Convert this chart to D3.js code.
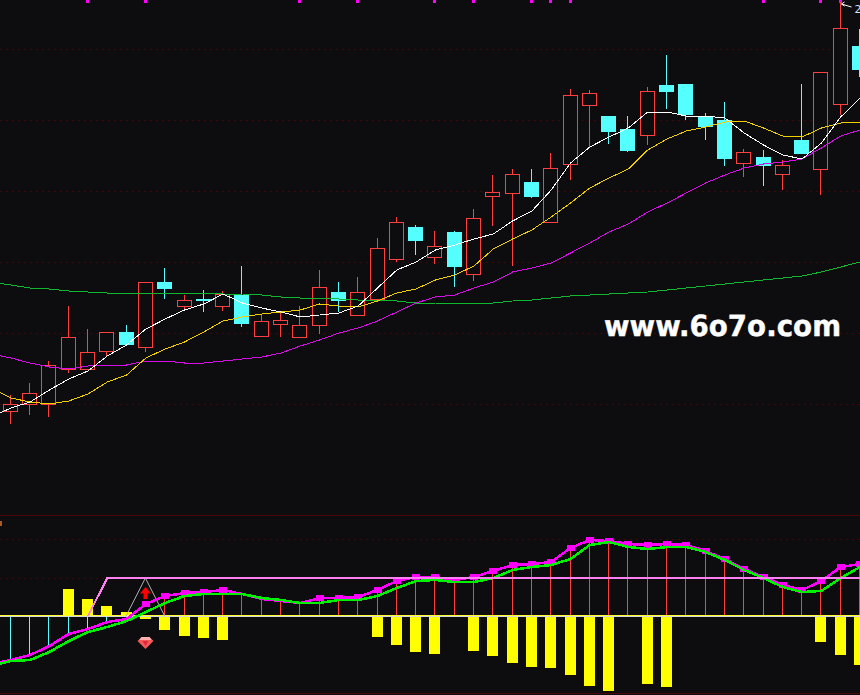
<!DOCTYPE html>
<html>
<head>
<meta charset="utf-8">
<script src="https://d3js.org/d3.v7.min.js"></script>
<style>
html,body{margin:0;padding:0;background:#0d0d10;overflow:hidden}
svg{display:block}
</style>
</head>
<body>
<script>
// Candles, one entry per session
const open  = [8.9,9.6,9.6,13.1,13.1,14.9,16.8,15.3,21.8,19.4,20.1,19.4,20.5,16.4,17.6,16.3,17.5,20.8,18.5,20.1,24.1,27.3,24.3,26.8,22.6,30.4,30.7,31.8,27.8,33.6,39.5,38.4,37.1,36.5,41.5,41.6,38.4,38.0,33.7,34.3,32.6,36.0,33.1,39.6,45.4];
const close = [9.6,10.7,13.5,16.3,14.8,16.8,15.5,21.8,21.1,20.0,19.9,20.6,17.6,17.9,18.0,17.5,21.3,19.9,20.8,25.2,27.8,25.9,25.4,23.3,28.2,30.8,32.6,30.3,33.2,40.5,40.7,36.8,34.9,40.9,40.8,38.5,37.3,34.1,34.8,33.4,33.5,34.6,42.8,47.2,43.0];
const high  = [10.5,11.7,13.9,19.4,17.1,16.8,17.5,21.8,23.2,20.5,21.0,20.9,23.4,18.5,18.7,19.4,23.0,21.8,22.3,26.2,28.3,27.5,26.9,26.9,29.1,32.5,33.1,33.1,34.7,41.1,41.0,38.4,38.4,41.3,44.5,41.6,38.7,39.8,35.1,35.0,34.0,41.6,42.8,49.8,47.1];
const low   = [7.6,8.5,8.3,12.7,13.1,14.3,15.5,14.8,20.1,18.9,18.8,18.9,17.3,16.3,16.3,16.3,16.6,18.8,18.5,20.0,23.8,24.5,23.6,21.3,21.9,27.4,23.4,30.2,27.8,32.0,35.3,35.6,34.8,35.5,39.1,38.0,36.0,33.4,32.3,31.4,31.0,34.6,30.5,38.5,42.3];

// Moving averages; the first value sits one session left of the first candle
const ma5  = [8.3,9.2,9.8,11.0,12.1,12.9,14.4,15.5,17.1,18.1,19.0,19.6,20.6,19.7,19.2,18.8,18.3,18.5,18.7,19.4,21.2,23.0,23.8,25.0,25.5,26.1,26.6,27.9,28.9,31.0,33.7,35.3,36.3,37.2,38.8,38.8,38.4,38.4,38.2,36.7,35.5,34.5,34.1,35.7,38.3,40.2];
const ma10 = [11.2,10.2,9.8,9.6,9.9,10.6,11.8,12.5,14.2,15.1,15.8,16.8,17.9,18.3,18.6,18.8,19.0,19.6,19.4,19.3,19.9,20.7,21.1,22.0,22.5,23.4,25.1,26.1,27.0,28.3,29.7,31.2,32.2,33.1,35.0,36.1,36.9,37.3,37.8,37.9,37.2,36.4,36.3,37.2,37.7,37.8];
const ma20 = [14.6,14.2,13.7,13.3,13.1,13.4,13.5,13.5,13.9,13.9,13.7,13.7,13.9,14.1,14.3,14.7,15.4,16.0,16.7,17.2,17.9,18.8,19.7,20.3,20.5,21.2,21.8,22.8,23.2,23.7,24.7,25.7,26.8,27.6,28.8,29.7,30.7,31.7,32.5,33.2,33.6,33.8,34.1,35.2,36.4,37.0];
const ma60 = [21.8,21.5,21.2,21.1,20.9,20.8,20.7,20.7,20.7,20.7,20.7,20.7,20.6,20.6,20.5,20.3,20.2,20.2,20.1,20.0,20.0,19.9,19.7,19.7,19.6,19.7,19.7,19.9,20.0,20.2,20.4,20.5,20.6,20.7,20.8,21.0,21.2,21.4,21.6,21.8,22.0,22.2,22.4,22.8,23.3,23.8];

const priceGrid = [45.1,38.0,30.9,23.8,16.7,9.6];
const topMarkers = [4,7,15,18,22,24,27,28,29,39,42,43];

// Lower panel; the first value of dif and dea sits one session left of the first candle
const dif = [-.48,-.44,-.39,-.30,-.18,-.13,-.06,-.03,.12,.20,.23,.24,.26,.22,.17,.15,.13,.18,.18,.19,.26,.35,.39,.39,.36,.39,.45,.51,.52,.54,.68,.76,.75,.72,.71,.72,.71,.65,.57,.47,.39,.31,.26,.35,.49,.52];
const dea = [-.50,-.45,-.44,-.36,-.25,-.16,-.11,-.05,.04,.13,.20,.22,.22,.22,.18,.16,.13,.13,.16,.16,.20,.28,.35,.36,.34,.34,.38,.46,.49,.51,.57,.71,.74,.69,.67,.69,.69,.64,.56,.46,.38,.29,.24,.25,.38,.49];
const yellowBars = [null,null,null,.27,.17,.10,.04,-.03,-.14,-.20,-.22,-.24,null,null,null,null,null,null,null,-.21,-.29,-.36,-.38,null,-.35,-.40,-.47,-.51,-.52,-.59,-.70,-.75,null,-.68,-.71,null,null,null,null,null,null,null,-.26,-.39,-.49];
const squares = [null,null,null,null,null,null,null,.12,.20,.23,.24,.26,null,null,null,null,.18,.18,.19,.26,.35,.39,.39,.36,.39,.45,.51,.52,.54,.68,.76,.75,.72,.71,.72,.71,.65,.57,.47,.39,.31,.26,.35,.49,.52];
const stemsBelow = [0,1,2,3,4,5,6];
const stemsAbove = d3.range(8,45);
const stageLevel = .38;
const stageRiseFrom = 4;
const triangleAt = 7;
const macdGrid = [.77,.38];
const panelEdges = [1.01,-.77];
const gemLevel = -.27;
const arrowTipLevel = .29;

const W = 860, H = 695;
const RED = "#ff4040", CYAN = "#55ffff", PINK = "#ff80f0";

const x = d3.scaleLinear().domain([0,44]).range([10.3,859.5]);
const px = i => Math.floor(x(i)) + .5;
const yP = d3.scaleLinear().domain([0,50]).range([500,0]);
const yM = d3.scaleLinear().domain([-.77,1.01]).range([693,515]);

const svg = d3.select("body").append("svg")
  .attr("width",W).attr("height",H)
  .attr("shape-rendering","crispEdges");
svg.append("rect").attr("width",W).attr("height",H).attr("fill","#0d0d10");

// Grid and panel edges
svg.append("g").selectAll("line").data(priceGrid).join("line")
  .attr("x1",0).attr("x2",W)
  .attr("y1",d=>Math.round(yP(d))+.5).attr("y2",d=>Math.round(yP(d))+.5)
  .attr("stroke","#3e0808").attr("stroke-dasharray","2 4");
svg.append("g").selectAll("line").data(macdGrid).join("line")
  .attr("x1",0).attr("x2",W)
  .attr("y1",d=>Math.round(yM(d))+.5).attr("y2",d=>Math.round(yM(d))+.5)
  .attr("stroke","#3e0808").attr("stroke-dasharray","2 4");
svg.append("g").selectAll("line").data(panelEdges).join("line")
  .attr("x1",0).attr("x2",W)
  .attr("y1",d=>Math.round(yM(d))+.5).attr("y2",d=>Math.round(yM(d))+.5)
  .attr("stroke","#4a0606");
svg.append("rect").attr("x",0).attr("y",yM(.95)).attr("width",2).attr("height",5).attr("fill","#a85a20");

// Top markers
svg.append("g").selectAll("rect").data(topMarkers).join("rect")
  .attr("x",d=>Math.floor(x(d))-1).attr("y",0).attr("width",3).attr("height",3).attr("fill","#ff00ff");

// Candles
const candles = d3.range(open.length).map(i=>({i,o:open[i],c:close[i],h:high[i],l:low[i],up:close[i]>=open[i]}));
const cg = svg.append("g");
cg.selectAll("line").data(candles).join("line")
  .attr("x1",d=>px(d.i)).attr("x2",d=>px(d.i))
  .attr("y1",d=>yP(d.h)).attr("y2",d=>yP(d.l))
  .attr("stroke",d=>d.up?RED:CYAN);
cg.selectAll("rect").data(candles).join("rect")
  .attr("x",d=>d.up?px(d.i)-7:px(d.i)-7.5)
  .attr("width",d=>d.up?14:15)
  .attr("y",d=>d.up?Math.round(yP(d.c))+.5:Math.round(yP(d.o)))
  .attr("height",d=>d.up?Math.round(yP(d.o)-yP(d.c)):Math.max(2,Math.round(yP(d.c)-yP(d.o))))
  .attr("fill",d=>d.up?"#0d0d10":CYAN)
  .attr("stroke",d=>d.up?RED:"none");

// Moving averages
const lineP = d3.line().x((d,k)=>x(k-1)+.5).y(d=>yP(d));
[[ma60,"#10b82e"],[ma20,"#d80ce8"],[ma10,"#f2d000"],[ma5,"#ffffff"]].forEach(([vals,col])=>{
  svg.append("path").datum(vals).attr("d",lineP).attr("fill","none").attr("stroke",col).attr("stroke-width",1);
});

// Lower panel: stems
const difAt = i => dif[i+1];
svg.append("g").selectAll("line").data(stemsBelow).join("line")
  .attr("x1",px).attr("x2",px).attr("y1",yM(0)).attr("y2",d=>yM(difAt(d))).attr("stroke",CYAN);
svg.append("g").selectAll("line").data(stemsAbove).join("line")
  .attr("x1",px).attr("x2",px).attr("y1",yM(0)).attr("y2",d=>yM(difAt(d))).attr("stroke",RED);

// Yellow bars
const barData = yellowBars.map((v,i)=>({v,i})).filter(d=>d.v!==null);
svg.append("g").selectAll("rect").data(barData).join("rect")
  .attr("x",d=>px(d.i)-5.5).attr("width",11)
  .attr("y",d=>yM(Math.max(d.v,0)))
  .attr("height",d=>Math.abs(yM(d.v)-yM(0)))
  .attr("fill","#ffff00");

// Zero line
svg.append("line").attr("x1",0).attr("x2",W).attr("y1",yM(0)-.5).attr("y2",yM(0)-.5).attr("stroke","#ffff30");
svg.append("line").attr("x1",0).attr("x2",W).attr("y1",yM(0)+.5).attr("y2",yM(0)+.5).attr("stroke","#d8d8d8");

// Triangle marker
const tri = [[triangleAt-1,0],[triangleAt,stageLevel],[triangleAt+1,0]];
svg.append("path").datum(tri)
  .attr("d",d3.line().x(d=>x(d[0])).y(d=>yM(d[1])))
  .attr("fill","none").attr("stroke","#b0b0b0").attr("shape-rendering","auto");

// Magenta squares, DIF, DEA
const lineM = d3.line().x((d,k)=>x(k-1)+.5).y(d=>yM(d));
svg.append("path").datum(dif).attr("d",lineM).attr("fill","none").attr("stroke","#ff00ff").attr("stroke-width",2.5);
const sqData = squares.map((v,i)=>({v,i})).filter(d=>d.v!==null);
svg.append("g").selectAll("rect").data(sqData).join("rect")
  .attr("x",d=>px(d.i)-3.5).attr("width",8).attr("y",d=>yM(d.v)-3).attr("height",6).attr("fill","#ff00ff");
svg.append("path").datum(dea).attr("d",lineM).attr("fill","none").attr("stroke","#00f000").attr("stroke-width",2.5);

// Stage line
const stage = [[stageRiseFrom,0],[stageRiseFrom+1,stageLevel],[46,stageLevel]];
svg.append("path").datum(stage)
  .attr("d",d3.line().x(d=>x(d[0])+.5).y(d=>yM(d[1])))
  .attr("fill","none").attr("stroke",PINK).attr("stroke-width",2);

// Arrow
const ax = px(triangleAt), ay = yM(arrowTipLevel);
svg.append("path").attr("d",`M${ax},${ay}l5.5,6.5h-3.5v5.5h-4v-5.5h-3.5z`).attr("fill","#ff0000").attr("shape-rendering","auto");

// Gem
const gx = px(triangleAt), gy = yM(gemLevel);
const gem = svg.append("g").attr("transform",`translate(${gx},${gy})`).attr("shape-rendering","auto");
gem.append("path").attr("d","M-8,-2L-4,-6H4L8,-2L0,6Z").attr("fill","#f25a5a");
gem.append("path").attr("d","M-4,-6H4L6,-3H-6Z").attr("fill","#ffb0b0");
gem.append("path").attr("d","M-3,-2H3L0,3Z").attr("fill","#e02838");

// High price flag
const hx = px(43), hy = yP(49.6);
svg.append("path").attr("d",`M${hx+1},${hy}l10,3M${hx+1},${hy}l3,-2M${hx+1},${hy}l3,2`)
  .attr("fill","none").attr("stroke","#ffffff").attr("shape-rendering","auto");
svg.append("text").attr("x",hx+14).attr("y",hy+9).attr("fill","#cfe8ff")
  .attr("font-family","DejaVu Sans, sans-serif").attr("font-size",11).text("2");

// Watermark
svg.append("text")
  .attr("x",604).attr("y",336)
  .attr("textLength",237).attr("lengthAdjust","spacingAndGlyphs")
  .attr("fill","#ffffff").attr("stroke","#ffffff").attr("stroke-width",.4)
  .attr("font-family","DejaVu Sans, sans-serif").attr("font-weight","bold").attr("font-size",29)
  .attr("text-rendering","geometricPrecision")
  .text("www.6o7o.com");
</script>
</body>
</html>
